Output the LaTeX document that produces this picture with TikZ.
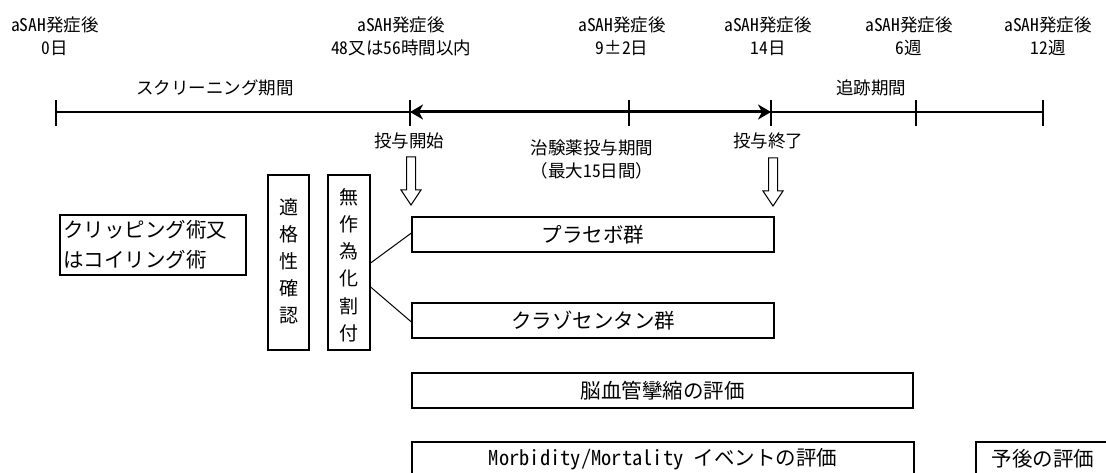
\documentclass[tikz,border=0pt]{standalone}
\usepackage{fontspec}
\setmainfont{Noto Sans CJK JP}
\newfontfamily\hw[CharacterWidth=Half]{Noto Sans CJK JP}
\usetikzlibrary{arrows.meta}
\tikzset{
  lab/.style={font=\fontsize{17.5}{23}\selectfont, align=center, inner sep=0pt},
  box/.style={draw, line width=1.2pt, inner sep=0pt, font=\fontsize{20.5}{30}\selectfont},
  vbox/.style={draw, line width=1.2pt, inner sep=0pt, font=\fontsize{19}{27}\selectfont, align=center,
    minimum width=41pt, minimum height=175pt},
  tline/.style={line width=1.2pt},
  conn/.style={line width=1pt},
  downarrow/.pic={\draw[line width=1pt, line join=miter, fill=white]
     (-4.5,0) -- (-4.5,33) -- (-10,33) -- (0,48) -- (10,33) -- (4.5,33) -- (4.5,0) -- cycle;}
}
\begin{document}
\begin{tikzpicture}[x=1pt,y=-1pt]
\useasboundingbox (0,0) rectangle (1106,473);
% top labels
\node[lab] (l0) at (55,36.5) {{\hw aSAH}発症後\\{\hw 0}日};
\node[lab] (l1) at (401,36.5) {{\hw aSAH}発症後\\{\hw 48}又は{\hw 56}時間以内};
\node[lab] (l2) at (622,36.5) {{\hw aSAH}発症後\\{\hw 9}±{\hw 2}日};
\node[lab] (l3) at (768,36.5) {{\hw aSAH}発症後\\{\hw 14}日};
\node[lab] (l4) at (909,36.5) {{\hw aSAH}発症後\\{\hw 6}週};
\node[lab] (l5) at (1048,36.5) {{\hw aSAH}発症後\\{\hw 12}週};
% period labels
\node[lab] (scr) at (215,88) {スクリーニング期間};
\node[lab] (fol) at (871,88) {追跡期間};
% timeline
\coordinate (t0) at (56,112);
\coordinate (t1) at (410,112);
\coordinate (t2) at (629,112);
\coordinate (t3) at (771,112);
\coordinate (t4) at (916,112);
\coordinate (t5) at (1043,112);
\draw[tline] (t0) -- (t5);
\foreach \t in {t0,t1,t2,t3,t4,t5}
  \draw[tline] ([yshift=12pt]\t) -- ([yshift=-14pt]\t);
\draw[line width=3pt, {Stealth[length=13pt,width=15pt,inset=4pt]}-{Stealth[length=13pt,width=15pt,inset=4pt]}] (t1) -- (t3);
% labels below timeline
\node[lab] (start) at (409,141) {投与開始};
\node[lab] (dur) at (592,159.5) {治験薬投与期間\\（最大{\hw 15}日間）};
\node[lab] (end) at (768,141) {投与終了};
% hollow arrows
\pic at (411,157) {downarrow};
\pic at (773,158) {downarrow};
% left boxes
\node[box, minimum width=186pt, minimum height=60pt] (clip) at (153,245) {};
\node[anchor=west, inner sep=0pt, align=left, font=\fontsize{20.5}{30}\selectfont] (cliptxt) at (63,245) {クリッピング術又\\はコイリング術};
\node[vbox] (elig) at (288.5,262.5) {};
\node[inner sep=0pt, align=center, font=\fontsize{19}{27}\selectfont] (eligtxt) at (288.5,261.5) {適\\格\\性\\確\\認};
\node[vbox, minimum width=42pt] (rand) at (349,262.5) {};
\node[inner sep=0pt, align=center, font=\fontsize{19}{27.2}\selectfont] (randtxt) at (349,265) {無\\作\\為\\化\\割\\付};
% arms
\node[box, minimum width=362pt, minimum height=35pt] (placebo) at (593,234.5) {プラセボ群};
\node[box, minimum width=362pt, minimum height=35pt] (claz) at (593,320.5) {クラゾセンタン群};
\draw[conn] ([yshift=-0.5pt]rand.east) -- ([yshift=1.5pt]placebo.west);
\draw[conn] ([yshift=-24.5pt]rand.east) -- ([yshift=-1.5pt]claz.west);
% evaluations
\node[box, minimum width=501pt, minimum height=35pt] (vaso) at (662.5,390.5) {脳血管攣縮の評価};
\node[box, minimum width=502pt, minimum height=34pt] (morb) at (663,459) {{\hw Morbidity/Mortality }イベントの評価};
\node[box, minimum width=134pt, minimum height=34pt] (prog) at (1043,459) {予後の評価};
\end{tikzpicture}
\end{document}
